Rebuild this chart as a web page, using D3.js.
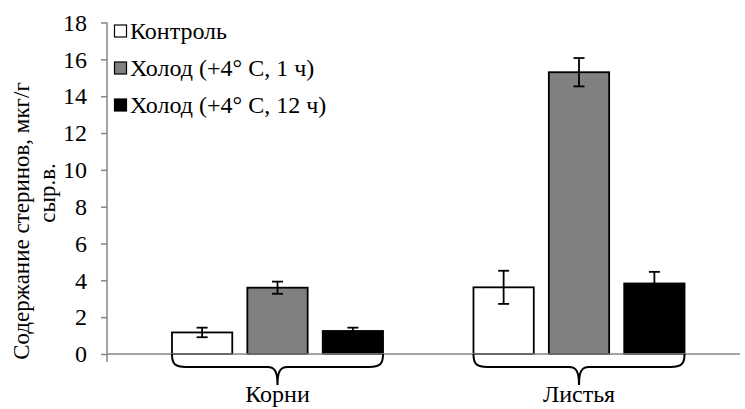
<!DOCTYPE html>
<html>
<head>
<meta charset="utf-8">
<script src="https://cdn.jsdelivr.net/npm/d3@7"></script>
<style>
  html, body { margin: 0; padding: 0; background: #fff; }
  text { font-family: "Liberation Serif", "Times New Roman", serif; }
</style>
</head>
<body>
<svg id="chart" width="745" height="409" font-family="Liberation Serif"></svg>
<script>
// Sterol content by organ and treatment
const categories = ["Корни", "Листья"];
const seriesNames = ["Контроль", "Холод (+4° С, 1 ч)", "Холод (+4° С, 12 ч)"];
const controlValues = [1.17, 3.62];
const cold1hValues = [3.6, 15.3];
const cold12hValues = [1.25, 3.83];
const controlErrors = [0.26, 0.9];
const cold1hErrors = [0.33, 0.77];
const cold12hErrors = [0.18, 0.63];
const yTicks = [0, 2, 4, 6, 8, 10, 12, 14, 16, 18];
const yTitleLines = ["Содержание стеринов, мкг/г", "сыр.в."];
const seriesFill = ["#ffffff", "#808080", "#000000"];

const values = [controlValues, cold1hValues, cold12hValues];
const errors = [controlErrors, cold1hErrors, cold12hErrors];

const svg = d3.select("#chart");
const axisColor = "#868686";
const setFont = (sel, size = 24) => sel
  .attr("font-family", "Liberation Serif")
  .style("font-family", '"Liberation Serif", "Times New Roman", serif')
  .style("font-size", size + "px")
  .attr("fill", "#000");

const y = d3.scaleLinear().domain([0, 18]).range([354, 22.5]);
const x0 = d3.scaleBand().domain(categories).range([126.75, 729.75])
  .paddingInner(0.3).paddingOuter(0.15);
const x1 = d3.scaleBand().domain(d3.range(seriesNames.length))
  .range([0, x0.bandwidth()]).paddingInner(0.2);

// Y axis
const yAxis = d3.axisLeft(y).tickValues(yTicks).tickSize(6).tickPadding(14)
  .tickFormat(d3.format("d"));
const gy = svg.append("g").attr("transform", "translate(107,0)").call(yAxis)
  .attr("font-family", "Liberation Serif").attr("font-size", 24);
gy.select(".domain").remove();
gy.selectAll(".tick line").attr("stroke", axisColor).attr("stroke-width", 1.5);
gy.selectAll(".tick text").call(setFont);
svg.append("line").attr("x1", 107).attr("x2", 107)
  .attr("y1", y(18)).attr("y2", y(0) + 8)
  .attr("stroke", axisColor).attr("stroke-width", 1.5);

// Y axis title (two lines)
svg.append("text").attr("transform", "translate(29,221) rotate(-90)")
  .attr("text-anchor", "middle").call(setFont, 23).text(yTitleLines[0]);
svg.append("text").attr("transform", "translate(55,193) rotate(-90)")
  .attr("text-anchor", "middle").call(setFont, 23).text(yTitleLines[1]);

// Bars
const rows = [];
categories.forEach((c, ci) => {
  seriesNames.forEach((s, si) => {
    rows.push({ c, si, v: values[si][ci], e: errors[si][ci] });
  });
});

svg.append("g").selectAll("rect").data(rows).join("rect")
  .attr("x", d => x0(d.c) + x1(d.si))
  .attr("y", d => y(d.v))
  .attr("width", x1.bandwidth())
  .attr("height", d => y(0) - y(d.v))
  .attr("fill", d => seriesFill[d.si])
  .attr("stroke", "#000").attr("stroke-width", 1.8);

// X axis line
svg.append("line").attr("x1", 107).attr("x2", 740)
  .attr("y1", y(0)).attr("y2", y(0))
  .attr("stroke", axisColor).attr("stroke-width", 1.5);

// Error bars
const eb = svg.append("g").attr("stroke", "#000").attr("stroke-width", 1.8);
rows.forEach(d => {
  const cx = x0(d.c) + x1(d.si) + x1.bandwidth() / 2;
  const y1 = y(d.v + d.e), y2 = y(d.v - d.e);
  eb.append("line").attr("x1", cx).attr("x2", cx).attr("y1", y1).attr("y2", y2);
  eb.append("line").attr("x1", cx - 5.5).attr("x2", cx + 5.5).attr("y1", y1).attr("y2", y1);
  eb.append("line").attr("x1", cx - 5.5).attr("x2", cx + 5.5).attr("y1", y2).attr("y2", y2);
});

// Curly braces under each group
categories.forEach(c => {
  const xa = x0(c), xb = x0(c) + x0.bandwidth(), xc = (xa + xb) / 2;
  const top = y(0), mid = top + 13, tip = top + 31;
  const p = d3.path();
  p.moveTo(xa, top);
  p.bezierCurveTo(xa, mid - 3, xa + 3, mid, xa + 14, mid);
  p.lineTo(xc - 10, mid);
  p.bezierCurveTo(xc - 3, mid, xc, mid + 4, xc, tip);
  p.bezierCurveTo(xc, mid + 4, xc + 3, mid, xc + 10, mid);
  p.lineTo(xb - 14, mid);
  p.bezierCurveTo(xb - 3, mid, xb, mid - 3, xb, top);
  svg.append("path").attr("d", p.toString()).attr("fill", "none")
    .attr("stroke", "#000").attr("stroke-width", 2);
  svg.append("text").attr("x", xc).attr("y", 402).attr("text-anchor", "middle")
    .call(setFont).text(c);
});

// Legend
const lg = svg.append("g");
seriesNames.forEach((s, i) => {
  const cy = 31 + i * 37;
  lg.append("rect").attr("x", 114.5).attr("y", cy - 6).attr("width", 12).attr("height", 12)
    .attr("fill", seriesFill[i]).attr("stroke", "#000").attr("stroke-width", 1.2);
  lg.append("text").attr("x", 130).attr("y", cy + 8).call(setFont).text(s);
});
</script>
</body>
</html>
